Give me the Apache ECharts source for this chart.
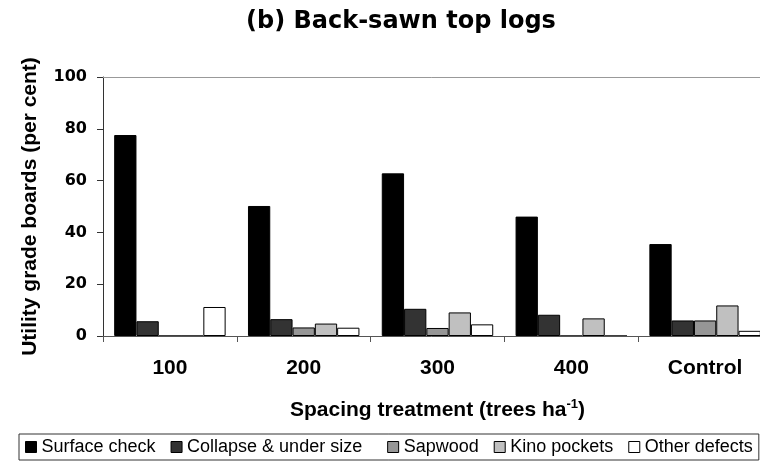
<!DOCTYPE html>
<html>
<head>
<meta charset="utf-8">
<script src="https://cdn.jsdelivr.net/npm/echarts@6/dist/echarts.min.js"></script>
<style>
  html, body { margin: 0; padding: 0; background: #fff; }
  #chart { width: 760px; height: 462px; }
</style>
</head>
<body>
<div id="chart"></div>
<script>
// spacing treatments (trees per ha)
const categories = ['100', '200', '300', '400', 'Control']

// utility grade boards (per cent) by defect
const surfaceCheck = [77.6, 50.2, 62.8, 46.1, 35.5]
const collapseUnderSize = [5.7, 6.5, 10.5, 8.2, 6.0]
const sapwood = [0, 3.3, 3.1, 0, 6.0]
const kinoPockets = [0, 4.8, 9.1, 6.8, 11.8]
const otherDefects = [11.2, 3.2, 4.5, 0, 2.0]

const yTicks = [0, 20, 40, 60, 80, 100]

const chart = echarts.init(document.getElementById('chart'))

function bar(name, data, color) {
  return {
    name,
    type: 'bar',
    data,
    barGap: '0%',
    barCategoryGap: '16.7%',
    itemStyle: { color, borderColor: '#000', borderWidth: 1 },
  }
}

chart.setOption({
  animation: false,
  backgroundColor: '#fff',
  title: {
    text: '(b) Back-sawn top logs',
    left: 246,
    top: 10,
    padding: 0,
    textStyle: { fontFamily: 'DejaVu Sans', fontWeight: 'bold', fontSize: 24, color: '#000' },
  },
  legend: {
    left: 19,
    top: 434,
    padding: [4, 6, 4, 6],
    itemGap: 15,
    itemWidth: 11,
    itemHeight: 11,
    icon: 'rect',
    borderColor: '#333',
    borderWidth: 1,
    borderRadius: 0,
    itemStyle: { borderColor: '#000', borderWidth: 1 },
    textStyle: { fontFamily: 'Liberation Sans', fontSize: 18, color: '#000' },
    formatter: (name) => (name === 'Collapse & under size' ? name + '  ' : name),
  },
  grid: { left: 103, top: 77, width: 669, height: 259, outerBoundsMode: 'none' },
  xAxis: [
    {
      type: 'category',
      data: categories,
      name: 'Spacing treatment (trees ha{sup|-1})',
      nameLocation: 'middle',
      nameGap: 62,
      nameTextStyle: {
        fontFamily: 'Liberation Sans',
        fontWeight: 'bold',
        fontSize: 21,
        color: '#000',
        rich: {
          sup: { fontFamily: 'Liberation Sans', fontWeight: 'bold', fontSize: 13, color: '#000', padding: [0, 0, 12, 0] },
        },
      },
      axisLine: { lineStyle: { color: '#555', width: 1 } },
      axisTick: { show: true, length: 6, lineStyle: { color: '#555' } },
      axisLabel: { margin: 22, fontFamily: 'Liberation Sans', fontWeight: 'bold', fontSize: 21, color: '#000' },
      splitLine: { show: false },
      z: 3,
    },
    {
      type: 'category',
      data: categories,
      position: 'top',
      axisLine: { lineStyle: { color: '#999', width: 1 } },
      axisTick: { show: false },
      axisLabel: { show: false },
    },
  ],
  yAxis: {
    type: 'value',
    min: yTicks[0],
    max: yTicks[yTicks.length - 1],
    interval: 20,
    name: 'Utility grade boards (per cent)',
    nameLocation: 'middle',
    nameGap: 62,
    nameTextStyle: { fontFamily: 'Liberation Sans', fontWeight: 'bold', fontSize: 21, color: '#000' },
    axisLine: { show: true, lineStyle: { color: '#333' } },
    axisTick: { show: true, length: 6, lineStyle: { color: '#333' } },
    axisLabel: { margin: 16, fontFamily: 'DejaVu Sans', fontWeight: 'bold', fontSize: 16, color: '#000' },
    splitLine: { show: false },
  },
  series: [
    bar('Surface check', surfaceCheck, '#000000'),
    bar('Collapse & under size', collapseUnderSize, '#333333'),
    bar('Sapwood', sapwood, '#969696'),
    bar('Kino pockets', kinoPockets, '#c0c0c0'),
    bar('Other defects', otherDefects, '#ffffff'),
  ],
})
</script>
</body>
</html>
